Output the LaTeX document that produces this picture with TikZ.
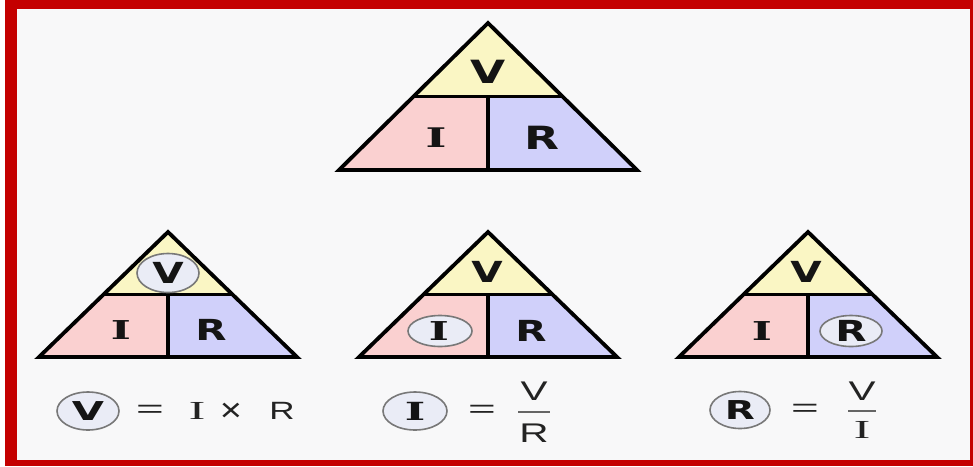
\documentclass[tikz,border=0pt]{standalone}
\usepackage{fontspec}
\usepackage{graphicx}
\setmainfont{Liberation Sans}
\newfontfamily\serf{Liberation Serif}
\newfontfamily\heavy{DejaVu Sans}
\newfontfamily\heavyserif{DejaVu Serif}
\usetikzlibrary{shapes.geometric}
\definecolor{framered}{RGB}{196,0,0}
\definecolor{bgcol}{RGB}{248,248,249}
\definecolor{triyellow}{RGB}{250,246,196}
\definecolor{tripink}{RGB}{250,208,208}
\definecolor{triblue}{RGB}{208,208,250}
\definecolor{ellfill}{RGB}{234,236,246}
\definecolor{ellline}{RGB}{120,120,120}
\definecolor{txt}{RGB}{35,35,35}
\newcommand\hs[2]{\scalebox{#1}[1]{#2}}
\newcommand\OhmTri[4]{%
  \pgfmathsetmacro\tcx{#1}\pgfmathsetmacro\tay{#2}%
  \pgfmathsetmacro\tby{#3}\pgfmathsetmacro\thw{#4}%
  \pgfmathsetmacro\tmy{(\tay+\tby)/2}%
  \pgfmathsetmacro\tml{\tcx-\thw/2}\pgfmathsetmacro\tmr{\tcx+\thw/2}%
  \pgfmathsetmacro\tbl{\tcx-\thw}\pgfmathsetmacro\tbr{\tcx+\thw}%
  \fill[triyellow] (\tcx,\tay) -- (\tml,\tmy) -- (\tmr,\tmy) -- cycle;
  \fill[tripink] (\tml,\tmy) -- (\tcx,\tmy) -- (\tcx,\tby) -- (\tbl,\tby) -- cycle;
  \fill[triblue] (\tcx,\tmy) -- (\tmr,\tmy) -- (\tbr,\tby) -- (\tcx,\tby) -- cycle;
  \draw[triline] (\tcx,\tay) -- (\tbl,\tby) -- (\tbr,\tby) -- cycle;
  \draw[triline] (\tml,\tmy) -- (\tmr,\tmy);
  \draw[triline] (\tcx,\tmy) -- (\tcx,\tby);
}
\begin{document}
\begin{tikzpicture}[x=1pt,y=-1pt,
  triline/.style={line width=3.8pt,line join=miter,black},
  bigl/.style={inner sep=0pt,font=\heavy\bfseries\fontsize{32}{34}\selectfont,text=black!92},
  bigserif/.style={inner sep=0pt,font=\heavyserif\bfseries\fontsize{27}{29}\selectfont,text=black!92},
  smalll/.style={inner sep=0pt,font=\heavy\bfseries\fontsize{29}{31}\selectfont,text=black!92},
  smallserif/.style={inner sep=0pt,font=\heavyserif\bfseries\fontsize{26}{28}\selectfont,text=black!92},
  eqt/.style={inner sep=0pt,font=\fontsize{25}{27}\selectfont,text=txt},
  eqserif/.style={inner sep=0pt,font=\serf\fontsize{26}{28}\selectfont,text=txt},
  fract/.style={inner sep=0pt,font=\fontsize{27}{29}\selectfont,text=txt},
  eqbold/.style={inner sep=0pt,font=\heavy\bfseries\fontsize{26}{28}\selectfont,text=black!92},
  eqboldserif/.style={inner sep=0pt,font=\heavyserif\bfseries\fontsize{25}{27}\selectfont,text=black!92},
  ring/.style={ellipse,draw=ellline,line width=1.6pt,fill=ellfill,inner sep=0pt},
  fracbar/.style={line width=1.8pt,draw=txt!70}]
\useasboundingbox (0,0) rectangle (973,466);
\fill[white] (0,0) rectangle (973,466);
\fill[framered] (5,0) rectangle (973,466);
\fill[bgcol] (17,9) rectangle (970,460);

% top triangle
\OhmTri{488}{23}{170}{149}
\node[bigl] (tV) at (488,72) {\hs{1.42}{V}};
\node[bigserif] (tI) at (436,138) {\hs{1.65}{I}};
\node[bigl] (tR) at (542,138) {\hs{1.42}{R}};

% bottom triangles
\OhmTri{168}{232}{357}{129}
\OhmTri{488}{232}{357}{129}
\OhmTri{808}{232}{357}{129}

% left
\node[ring,minimum width=62pt,minimum height=39pt] (lVr) at (168,273) {};
\node[smalll] (lV) at (168,273) {\hs{1.4}{V}};
\node[smallserif] (lI) at (121,330) {\hs{1.65}{I}};
\node[smalll] (lR) at (211,330) {\hs{1.4}{R}};

% middle
\node[smalll] (mV) at (487,272) {\hs{1.4}{V}};
\node[ring,minimum width=64pt,minimum height=31pt] (mIr) at (440,331) {};
\node[smallserif] (mI) at (439,331) {\hs{1.65}{I}};
\node[smalll] (mR) at (531,331) {\hs{1.4}{R}};

% right
\node[smalll] (rV) at (806,272) {\hs{1.4}{V}};
\node[smallserif] (rI) at (762,331) {\hs{1.65}{I}};
\node[ring,minimum width=62pt,minimum height=31pt] (rRr) at (851,331) {};
\node[smalll] (rR) at (851,331) {\hs{1.4}{R}};

% equation left
\node[ring,minimum width=62pt,minimum height=38pt] (e1r) at (88,411) {};
\node[eqbold] (e1V) at (88,411) {\hs{1.6}{V}};
\node[eqt] (e1eq) at (150,411) {\hs{1.9}{=}};
\node[eqserif] (e1I) at (197,411) {\hs{1.9}{I}};
\node[eqt,font=\fontsize{33}{35}\selectfont] (e1x) at (231,412) {\hs{1.15}{×}};
\node[eqt] (e1R) at (282,411) {\hs{1.4}{R}};

% equation middle
\node[ring,minimum width=64pt,minimum height=38pt] (e2r) at (415,411) {};
\node[eqboldserif] (e2I) at (415,411) {\hs{1.75}{I}};
\node[eqt] (e2eq) at (482,411) {\hs{1.9}{=}};
\node[fract] (e2V) at (534,391) {\hs{1.5}{V}};
\coordinate (e2a) at (518,412);
\coordinate (e2b) at (550,412);
\draw[fracbar] (e2a) -- (e2b);
\node[fract] (e2R) at (534,433) {\hs{1.5}{R}};

% equation right
\node[ring,minimum width=60pt,minimum height=37pt] (e3r) at (740,410) {};
\node[eqbold] (e3R) at (740,410) {\hs{1.5}{R}};
\node[eqt] (e3eq) at (805,410) {\hs{1.9}{=}};
\node[fract] (e3V) at (862,391) {\hs{1.5}{V}};
\coordinate (e3a) at (848,411);
\coordinate (e3b) at (876,411);
\draw[fracbar] (e3a) -- (e3b);
\node[eqserif] (e3I) at (862,430) {\hs{1.9}{I}};
\end{tikzpicture}
\end{document}
